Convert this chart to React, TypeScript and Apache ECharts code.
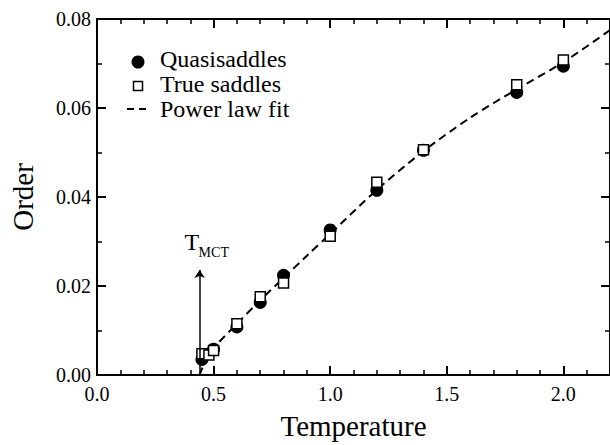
import React, { useEffect, useRef } from "react";
import * as echarts from "echarts";

// Quasisaddles (filled circles)
const quasiT = [0.45, 0.5, 0.6, 0.7, 0.8, 1.0, 1.2, 1.4, 1.8, 2.0];
const quasiOrder = [0.0035, 0.0058, 0.0108, 0.0163, 0.0224, 0.0326, 0.0415, 0.0505, 0.0635, 0.0694];

// True saddles (open squares)
const trueT = [0.45, 0.48, 0.5, 0.6, 0.7, 0.8, 1.0, 1.2, 1.4, 1.8, 2.0];
const trueOrder = [0.0048, 0.0045, 0.0055, 0.0115, 0.0176, 0.0207, 0.0312, 0.0433, 0.0506, 0.0652, 0.0708];

// Power law fit (dashed curve)
const fitT = [0.44, 0.46, 0.5, 0.6, 0.7, 0.8, 0.9, 1.0, 1.2, 1.4, 1.6, 1.8, 2.0, 2.2];
const fitOrder = [0.0, 0.0026, 0.006, 0.0115, 0.0168, 0.0218, 0.0268, 0.0317, 0.0416, 0.0503, 0.0578, 0.0642, 0.0703, 0.0775];

// T_MCT marker
const tMCT = 0.44;
const arrowTop = 0.0236;

const xMin = 0;
const xMax = 2.2;
const xStep = 0.5;
const yMin = 0;
const yMax = 0.08;
const yStep = 0.02;

const legendLabels = ["Quasisaddles", "True saddles", "Power law fit"];

const SERIF = "Liberation Serif";

export default function App() {
  const ref = useRef<HTMLDivElement>(null);

  useEffect(() => {
    if (!ref.current) return;
    const chart = echarts.init(ref.current, undefined, { renderer: "svg" });

    const axisLine = { show: true, onZero: false, lineStyle: { color: "#000", width: 2 } };
    const axisTick = { show: true, inside: true, length: 9, lineStyle: { color: "#000", width: 2 } };

    const xCommon = {
      type: "value" as const,
      min: xMin,
      max: xMax,
      interval: xStep,
      axisLine,
      axisTick,
      minorTick: { show: true, splitNumber: 5, length: 5, lineStyle: { color: "#000", width: 1.5 } },
      splitLine: { show: false },
      minorSplitLine: { show: false },
    };
    const yCommon = {
      type: "value" as const,
      min: yMin,
      max: yMax,
      interval: yStep,
      axisLine,
      axisTick,
      minorTick: { show: true, splitNumber: 2, length: 5, lineStyle: { color: "#000", width: 1.5 } },
      splitLine: { show: false },
      minorSplitLine: { show: false },
    };

    chart.setOption({
      animation: false,
      backgroundColor: "#fff",
      textStyle: { fontFamily: SERIF },
      grid: { left: 96, top: 19, width: 523, height: 361, containLabel: false },
      xAxis: [
        {
          ...xCommon,
          position: "bottom",
          name: "Temperature",
          nameLocation: "middle",
          nameGap: 36,
          nameTextStyle: { fontFamily: SERIF, fontSize: 29, color: "#000" },
          axisLabel: {
            fontFamily: SERIF,
            fontSize: 20,
            color: "#000",
            margin: 9,
            showMaxLabel: false,
            formatter: (v: number) => v.toFixed(1),
          },
        },
        { ...xCommon, position: "top", axisLabel: { show: false } },
      ],
      yAxis: [
        {
          ...yCommon,
          position: "left",
          name: "Order",
          nameLocation: "middle",
          nameGap: 60,
          nameRotate: 90,
          nameTextStyle: { fontFamily: SERIF, fontSize: 29, color: "#000" },
          axisLabel: {
            fontFamily: SERIF,
            fontSize: 20,
            color: "#000",
            margin: 6,
            formatter: (v: number) => v.toFixed(2),
          },
        },
        { ...yCommon, position: "right", axisLabel: { show: false } },
      ],
      series: [
        {
          name: legendLabels[2],
          type: "line",
          xAxisIndex: 0,
          yAxisIndex: 0,
          data: fitT.map((t, i) => [t, fitOrder[i]]),
          showSymbol: false,
          symbol: "none",
          smooth: 0.3,
          lineStyle: { color: "#000", width: 2, type: [8, 5] },
          z: 2,
          markLine: {
            silent: true,
            animation: false,
            symbol: ["none", "arrow"],
            symbolSize: 8,
            label: { show: false },
            lineStyle: { color: "#000", width: 1.5, type: "solid" },
            data: [[{ coord: [tMCT, 0] }, { coord: [tMCT, arrowTop] }]],
          },
        },
        {
          name: legendLabels[0],
          type: "scatter",
          xAxisIndex: 0,
          yAxisIndex: 0,
          data: quasiT.map((t, i) => [t, quasiOrder[i]]),
          symbol: "circle",
          symbolSize: 13,
          itemStyle: { color: "#000", opacity: 1 },
          z: 3,
        },
        {
          name: legendLabels[1],
          type: "scatter",
          xAxisIndex: 0,
          yAxisIndex: 0,
          data: trueT.map((t, i) => [t, trueOrder[i]]),
          symbol: "rect",
          symbolSize: 10,
          itemStyle: { color: "#fff", borderColor: "#000", borderWidth: 1.5, opacity: 1 },
          z: 4,
        },
      ],
    });

    const p = chart.convertToPixel({ xAxisIndex: 0, yAxisIndex: 0 }, [tMCT, arrowTop]) as number[];
    const textStyle = (size: number) => ({
      fill: "#000",
      fontFamily: SERIF,
      fontSize: size,
      verticalAlign: "middle" as const,
      align: "left" as const,
    });

    chart.setOption({
      graphic: [
        { type: "circle", shape: { cx: 138, cy: 62, r: 6.5 }, style: { fill: "#000" } },
        {
          type: "rect",
          shape: { x: 133.5, y: 81.5, width: 9, height: 9 },
          style: { fill: "#fff", stroke: "#000", lineWidth: 1.5 },
        },
        {
          type: "line",
          shape: { x1: 127, y1: 109, x2: 149, y2: 109 },
          style: { stroke: "#000", lineWidth: 2, lineDash: [7, 5] },
        },
        { type: "text", x: 160, y: 59, style: { text: legendLabels[0], ...textStyle(24) } },
        { type: "text", x: 160, y: 84, style: { text: legendLabels[1], ...textStyle(24) } },
        { type: "text", x: 160, y: 109, style: { text: legendLabels[2], ...textStyle(24) } },
        { type: "text", x: p[0] - 15, y: p[1] - 28, style: { text: "T", ...textStyle(24) } },
        { type: "text", x: p[0] - 1, y: p[1] - 17, style: { text: "MCT", ...textStyle(14) } },
      ],
    });

    return () => chart.dispose();
  }, []);

  return (
    <div
      ref={ref}
      style={{ position: "fixed", left: 0, top: 0, width: 610, height: 445, background: "#fff" }}
    />
  );
}
